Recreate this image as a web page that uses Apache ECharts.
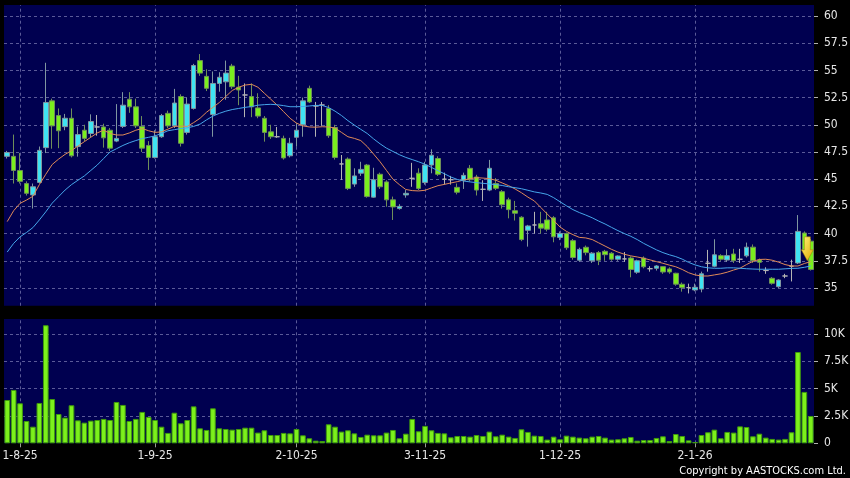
<!DOCTYPE html>
<html>
<head>
<meta charset="utf-8">
<script src="https://cdn.jsdelivr.net/npm/echarts@6/dist/echarts.min.js"></script>
<style>
  html, body { margin: 0; padding: 0; background: #000; }
  #chart { width: 850px; height: 478px; }
</style>
</head>
<body>
<div id="chart"></div>
<script>
// daily bars, oldest first (price in $, volume in thousands of shares)
const opens = [
  47.1, 47.1, 45.8, 44.6, 43.55, 44.7, 47.9, 52.2, 50.85, 49.83,
  50.6, 48.0, 49.5, 49.2, 49.8, 49.8, 49.5, 48.5, 49.85, 52.35,
  51.65, 49.85, 48.1, 47.0, 48.9, 51.05, 49.9, 52.6, 49.3, 51.5,
  55.9, 54.45, 50.95, 53.8, 53.95, 55.4, 53.45, 52.74, 52.6, 51.55,
  50.6, 49.35, 48.9, 48.75, 47.15, 48.85, 50.0, 53.35, 51.73, 51.82,
  51.5, 49.75, 46.4, 46.85, 44.55, 45.55, 46.3, 43.35, 45.45, 44.75,
  43.1, 42.3, 43.55, 45.08, 45.55, 44.7, 46.3, 46.9, 45.0, 44.95,
  44.25, 44.9, 46.0, 45.2, 44.07, 44.0, 44.6, 43.85, 43.1, 42.1,
  41.5, 40.3, 40.79, 40.9, 41.25, 41.45, 39.65, 40.0, 39.35, 37.55,
  38.74, 37.5, 38.25, 38.37, 38.19, 37.64, 37.67, 37.75, 36.45, 37.75,
  36.77, 36.81, 36.96, 36.75, 36.35, 35.34, 35.03, 34.82, 34.9, 37.27,
  37.0, 37.97, 37.57, 38.12, 37.64, 37.95, 38.75, 37.57, 36.6, 35.89,
  35.12, 36.1, 37.0, 37.3, 40.05, 39.3
];
const closes = [
  47.45, 45.8, 44.8, 43.7, 44.3, 47.65, 52.05, 49.9, 49.45, 50.6,
  47.15, 49.1, 48.75, 50.3, 49.8, 48.8, 47.85, 48.75, 51.8, 51.65,
  49.9, 47.85, 47.0, 48.9, 50.85, 49.9, 52.0, 48.3, 51.9, 55.45,
  54.75, 53.35, 53.8, 54.37, 54.75, 53.5, 53.2, 52.74, 51.65, 50.8,
  49.3, 48.9, 48.9, 46.95, 48.3, 49.5, 52.2, 52.1, 51.73, 51.82,
  49.0, 47.0, 46.4, 44.15, 45.3, 45.9, 43.4, 44.95, 44.3, 43.1,
  42.45, 42.5, 43.7, 45.08, 44.15, 46.3, 47.2, 45.45, 45.0, 44.95,
  43.8, 45.35, 44.95, 44.0, 44.07, 46.0, 44.16, 42.65, 42.2, 41.87,
  39.45, 40.7, 40.79, 40.5, 40.4, 39.7, 40.0, 38.7, 37.8, 38.55,
  38.25, 38.2, 37.55, 38.06, 37.64, 37.94, 37.67, 36.7, 37.5, 36.95,
  36.77, 37.02, 36.47, 36.47, 35.35, 35.03, 35.03, 35.06, 36.3, 37.27,
  38.05, 37.64, 37.97, 37.51, 37.64, 38.75, 37.5, 37.36, 36.6, 35.43,
  35.73, 36.1, 37.0, 40.2, 38.5, 36.7
];
const lows = [
  46.9, 44.6, 44.6, 43.5, 42.3, 44.6, 47.4, 47.8, 47.85, 49.5,
  47.0, 47.07, 48.5, 48.85, 49.0, 47.9, 47.6, 48.4, 49.7, 51.1,
  49.7, 47.5, 45.85, 46.9, 48.8, 49.7, 49.7, 48.0, 49.1, 51.4,
  54.5, 53.1, 48.9, 53.04, 52.3, 53.3, 51.8, 50.7, 50.7, 50.6,
  48.45, 48.7, 48.8, 46.8, 47.0, 47.99, 48.9, 52.0, 48.9, 49.9,
  48.8, 46.8, 44.93, 44.0, 44.3, 45.3, 43.3, 43.3, 44.1, 42.47,
  41.25, 42.2, 43.3, 44.3, 44.0, 44.5, 45.54, 45.3, 44.5, 44.5,
  43.6, 44.1, 44.8, 43.5, 43.0, 43.9, 44.0, 42.3, 41.4, 41.2,
  39.3, 38.8, 40.0, 40.0, 40.2, 39.2, 39.4, 38.5, 37.6, 37.4,
  38.0, 37.3, 37.1, 37.5, 37.5, 37.5, 37.4, 35.98, 36.3, 36.8,
  36.5, 36.6, 36.3, 36.3, 35.2, 34.66, 34.5, 34.7, 34.6, 36.5,
  36.9, 37.5, 37.4, 37.3, 37.3, 37.8, 37.3, 36.5, 36.3, 35.3,
  35.0, 35.9, 35.6, 37.2, 38.3, 36.6
];
const highs = [
  47.6, 49.1, 47.4, 44.8, 44.6, 48.0, 55.7, 52.4, 51.5, 51.0,
  51.5, 49.83, 50.0, 50.96, 50.9, 50.1, 49.7, 51.9, 53.0, 53.0,
  52.4, 50.8, 48.5, 49.5, 51.0, 51.3, 53.3, 52.8, 52.5, 55.6,
  56.5, 55.1, 54.9, 54.83, 55.9, 55.6, 54.5, 53.8, 53.8, 52.9,
  50.8, 50.0, 49.8, 49.0, 48.8, 50.14, 52.5, 53.6, 52.1, 52.1,
  51.8, 50.0, 47.22, 47.0, 46.0, 46.6, 46.4, 46.05, 45.6, 44.9,
  43.4, 42.7, 44.0, 46.5, 46.0, 46.6, 47.74, 47.1, 45.6, 45.3,
  44.6, 45.6, 46.3, 45.4, 44.9, 46.77, 45.1, 44.0, 43.3, 43.0,
  41.6, 40.8, 42.0, 42.0, 42.0, 41.6, 40.2, 40.1, 39.5, 38.7,
  38.9, 38.3, 38.4, 38.5, 38.3, 38.0, 38.3, 37.9, 37.6, 37.9,
  37.0, 37.1, 37.0, 36.9, 36.4, 35.5, 35.4, 35.4, 36.5, 38.5,
  39.48, 38.1, 38.56, 38.6, 38.6, 39.17, 39.0, 37.7, 36.9, 36.0,
  35.8, 36.3, 37.6, 41.7, 40.2, 39.5
];
const volumes = [
  3.96, 4.88, 3.66, 2.04, 1.52, 3.69, 10.8, 4.05, 2.68, 2.35,
  3.48, 2.10, 1.89, 2.07, 2.13, 2.23, 2.13, 3.78, 3.51, 2.04,
  2.23, 2.87, 2.41, 2.13, 1.52, 0.95, 2.80, 1.83, 2.13, 3.38,
  1.37, 1.22, 3.20, 1.37, 1.31, 1.25, 1.31, 1.43, 1.43, 0.98,
  1.19, 0.76, 0.76, 0.95, 0.91, 1.31, 0.73, 0.46, 0.24, 0.21,
  1.74, 1.52, 1.07, 1.19, 0.91, 0.58, 0.79, 0.73, 0.73, 0.98,
  1.22, 0.46, 0.88, 2.23, 1.10, 1.59, 1.19, 0.95, 0.91, 0.55,
  0.67, 0.67, 0.61, 0.76, 0.67, 1.07, 0.64, 0.79, 0.61, 0.49,
  1.28, 1.04, 0.70, 0.67, 0.34, 0.61, 0.37, 0.70, 0.61, 0.52,
  0.46, 0.61, 0.67, 0.52, 0.34, 0.37, 0.46, 0.58, 0.24, 0.30,
  0.30, 0.49, 0.64, 0.21, 0.85, 0.67, 0.27, 0.12, 0.76, 1.01,
  1.25, 0.46, 1.04, 0.98, 1.55, 1.49, 0.64, 0.88, 0.52, 0.40,
  0.34, 0.40, 1.01, 8.35, 4.70, 2.50
];
// moving averages as drawn on the chart
const ma10 = [
  41.1, 42.1, 42.78, 43.08, 43.43, 44.5, 45.45, 46.35, 46.85, 47.28,
  47.62, 48.05, 48.45, 48.85, 49.25, 49.5, 49.2, 49.06, 49.06, 49.25,
  49.5, 49.65, 49.45, 49.3, 49.35, 49.6, 49.85, 49.88, 49.85, 50.2,
  50.6, 51.15, 51.6, 52.05, 52.6, 53.15, 53.45, 53.65, 53.72, 53.45,
  52.9, 52.35, 51.8, 51.2, 50.6, 50.15, 49.9, 49.8, 49.78, 49.82,
  49.8, 49.7, 49.3, 48.9, 48.75, 48.55, 48.0, 47.3, 46.6, 45.8,
  45.0, 44.5, 44.05, 43.95, 43.92, 43.98, 44.2, 44.4, 44.52, 44.65,
  44.77, 44.92, 45.05, 45.14, 45.1, 45.05, 44.9, 44.65, 44.4, 44.1,
  43.75, 43.35, 43.0, 42.4, 41.8, 41.2, 40.6, 40.2, 39.9, 39.65,
  39.6, 39.45, 39.15, 38.85, 38.55, 38.3, 38.1, 37.95, 37.85, 37.73,
  37.58, 37.42, 37.27, 37.1, 36.95, 36.7, 36.4, 36.2, 36.1, 36.1,
  36.2, 36.3, 36.45, 36.65, 36.82, 37.15, 37.45, 37.62, 37.64, 37.55,
  37.37, 37.15, 37.02, 37.02, 37.25, 37.42
];
const ma20 = [
  38.3, 39.1, 39.7, 40.1, 40.55, 41.25, 42.0, 42.8, 43.4, 44.0,
  44.5, 44.9, 45.3, 45.8, 46.3, 46.9, 47.5, 47.8, 48.1, 48.35,
  48.55, 48.73, 48.85, 48.98, 49.2, 49.45, 49.55, 49.65, 49.72, 49.85,
  50.06, 50.45, 50.8, 51.05, 51.25, 51.4, 51.5, 51.6, 51.68, 51.8,
  51.85, 51.88, 51.84, 51.76, 51.66, 51.66, 51.68, 51.73, 51.78, 51.78,
  51.58, 51.25, 50.85, 50.38, 49.97, 49.58, 49.2, 48.7, 48.25, 47.85,
  47.55, 47.25, 47.0, 46.8, 46.6, 46.37, 46.08, 45.78, 45.5, 45.2,
  44.98, 44.83, 44.75, 44.68, 44.62, 44.56, 44.5, 44.42, 44.3, 44.22,
  44.12, 43.98, 43.83, 43.73, 43.6, 43.3, 42.92, 42.55, 42.2, 41.93,
  41.7, 41.45, 41.15, 40.88, 40.57, 40.27, 40.0, 39.75, 39.45, 39.1,
  38.8, 38.5, 38.25, 38.05, 37.88, 37.65, 37.35, 37.12, 36.95, 36.85,
  36.81, 36.81, 36.85, 36.85, 36.81, 36.77, 36.74, 36.72, 36.72, 36.72,
  36.72, 36.76, 36.8, 36.81, 36.9, 37.02
];
const priceTicks = [35, 37.5, 40, 42.5, 45, 47.5, 50, 52.5, 55, 57.5, 60];
const volumeTicks = [0, 2.5, 5, 7.5, 10];
const dateTickIndex = [2, 23, 45, 65, 86, 107];
const dateTickText = ['1-8-25', '1-9-25', '2-10-25', '3-11-25', '1-12-25', '2-1-26'];

const days = closes.map((_, i) => String(i));
const candles = opens.map((o, i) => [o, closes[i], lows[i], highs[i]]);
const dateLabel = {};
dateTickIndex.forEach((idx, k) => { dateLabel[idx] = dateTickText[k]; });
const isDateTick = (i) => dateLabel[i] !== undefined;

const FONT = "'DejaVu Sans Condensed', 'DejaVu Sans', sans-serif";
const gridLine = { color: '#5a5a98', type: [3, 3], width: 1 };

function gridMarks(yValues) {
  return {
    silent: true,
    symbol: ['none', 'none'],
    z: 1,
    label: { show: false },
    lineStyle: gridLine,
    emphasis: { disabled: true },
    animation: false,
    data: yValues.map((v) => ({ yAxis: v }))
      .concat(dateTickIndex.map((i) => ({ xAxis: i }))),
  };
}

const chart = echarts.init(document.getElementById('chart'));
chart.setOption({
  backgroundColor: '#000',
  animation: false,
  textStyle: { fontFamily: FONT },
  grid: [
    { left: 4, right: 36, top: 5, height: 300.7, show: true,
      backgroundColor: '#000050', borderWidth: 0, outerBoundsMode: 'none' },
    { left: 4, right: 36, top: 319, height: 124.3, show: true,
      backgroundColor: '#000050', borderWidth: 0, outerBoundsMode: 'none' },
  ],
  xAxis: [
    {
      type: 'category', gridIndex: 0, data: days, boundaryGap: true,
      axisLine: { show: false }, axisTick: { show: false },
      axisLabel: { show: false }, splitLine: { show: false },
    },
    {
      type: 'category', gridIndex: 1, data: days, boundaryGap: true,
      axisLine: { show: false },
      axisTick: {
        show: true, alignWithLabel: true, length: 4,
        interval: (i) => isDateTick(i),
        lineStyle: { color: '#9a9a9a' },
      },
      axisLabel: {
        show: true, interval: (i) => isDateTick(i),
        formatter: (v, i) => dateLabel[i] || '',
        color: '#e6e6e6', fontSize: 12, margin: 7, fontFamily: FONT,
      },
      splitLine: { show: false },
    },
  ],
  yAxis: [
    {
      type: 'value', gridIndex: 0, position: 'right', scale: true,
      min: 33.37, max: 61.01,
      axisLine: { show: false },
      axisTick: { show: true, length: 4, customValues: priceTicks,
        lineStyle: { color: '#b0b0b0' } },
      axisLabel: { customValues: priceTicks, color: '#e6e6e6', fontSize: 12,
        margin: 10, fontFamily: FONT, formatter: (v) => String(v) },
      splitLine: { show: false },
    },
    {
      type: 'value', gridIndex: 1, position: 'right',
      min: 0, max: 11.37,
      axisLine: { show: false },
      axisTick: { show: true, length: 4, customValues: volumeTicks,
        lineStyle: { color: '#b0b0b0' } },
      axisLabel: { customValues: volumeTicks, color: '#e6e6e6', fontSize: 12,
        margin: 10, fontFamily: FONT, formatter: (v) => (v === 0 ? '0' : v + 'K') },
      splitLine: { show: false },
    },
  ],
  series: [
    {
      name: 'Price', type: 'candlestick', xAxisIndex: 0, yAxisIndex: 0,
      data: candles, barWidth: 5,
      itemStyle: {
        color: '#3fe3f2', color0: '#7aee1e',
        borderColor: '#7f96a0', borderColor0: '#6f8f5a',
        borderColorDoji: '#b4b4b4', borderWidth: 1,
      },
      emphasis: { disabled: true },
      markLine: gridMarks(priceTicks),
      markPoint: {
        silent: true,
        label: { show: false },
        data: [{
          coord: [124, 38.6],
          symbol: 'path://M3,0 L9,0 L9,13 L12,13 L6,24 L0,13 L3,13 Z',
          symbolSize: [12, 24],
          symbolOffset: [3, 0],
          itemStyle: {
            color: new echarts.graphic.LinearGradient(0, 0, 1, 1, [
              { offset: 0, color: '#fff47a' },
              { offset: 1, color: '#e0a800' },
            ]),
            borderColor: '#a07c00', borderWidth: 0.5,
          },
        }],
      },
    },
    {
      name: 'MA10', type: 'line', xAxisIndex: 0, yAxisIndex: 0,
      data: ma10, showSymbol: false, smooth: false,
      lineStyle: { color: '#e08a58', width: 1 },
      emphasis: { disabled: true },
    },
    {
      name: 'MA20', type: 'line', xAxisIndex: 0, yAxisIndex: 0,
      data: ma20, showSymbol: false, smooth: false,
      lineStyle: { color: '#46a6ea', width: 1 },
      emphasis: { disabled: true },
    },
    {
      name: 'Volume', type: 'bar', xAxisIndex: 1, yAxisIndex: 1,
      data: volumes, barCategoryGap: '12%',
      itemStyle: { color: '#7cf01c', borderColor: '#3f9a0c', borderWidth: 1 },
      emphasis: { disabled: true },
      markLine: gridMarks(volumeTicks.filter((v) => v > 0)),
    },
  ],
  graphic: [{
    type: 'text', right: 4, bottom: 1,
    style: {
      text: 'Copyright by AASTOCKS.com Ltd.',
      fill: '#ffffff', font: "11px 'DejaVu Sans Condensed', 'DejaVu Sans', sans-serif",
    },
  }],
});
</script>
</body>
</html>
